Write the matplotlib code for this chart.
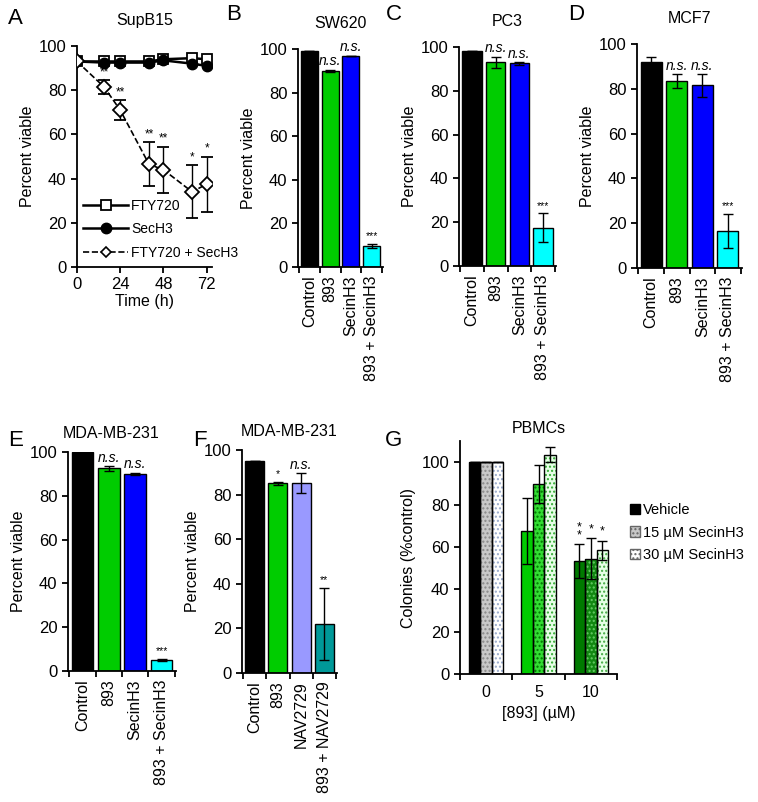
import numpy as np
from matplotlib import pyplot as plt
from matplotlib.patches import Patch
from matplotlib.lines import Line2D

plt.rcParams['font.family'] = ['Liberation Sans', 'DejaVu Sans']
plt.rcParams['font.size'] = 11.5

# ---- panel A data ----
time_h = [0, 15, 24, 40, 48, 64, 72]
fty720 = [93, 93, 93, 93, 94, 94.5, 94]
sech3 = [93, 92.5, 92.5, 92.5, 93.5, 92, 91]
combo_a = [93, 81.5, 71, 46.5, 44, 34, 37.5]
combo_a_err = [0, 3, 4.5, 10, 10.5, 12, 12.5]
combo_a_sig = ['', '**', '**', '**', '**', '*', '*']

# ---- bar panels B-F ----
cats_secin = ['Control', '893', 'SecinH3', '893 + SecinH3']
cats_nav = ['Control', '893', 'NAV2729', '893 + NAV2729']
colors_secin = ['#000000', '#00cc00', '#0000ff', '#00ffff']
colors_nav = ['#000000', '#00cc00', '#9999ff', '#009999']

sw620 = [99, 90, 97, 9.5]
sw620_err = [0, 0.5, 0, 1]
sw620_sig = ['', 'n.s.', 'n.s.', '***']

pc3 = [98, 93, 92.5, 17.5]
pc3_err = [0, 2.5, 0.5, 6.5]
pc3_sig = ['', 'n.s.', 'n.s.', '***']

mcf7 = [92, 83.5, 81.5, 16.5]
mcf7_err = [2, 3, 5, 7.5]
mcf7_sig = ['', 'n.s.', 'n.s.', '***']

mda_secin = [100, 92.5, 90, 5]
mda_secin_err = [0, 1, 0.5, 0.5]
mda_secin_sig = ['', 'n.s.', 'n.s.', '***']

mda_nav = [95, 85, 85, 22]
mda_nav_err = [0, 0.5, 4.5, 16]
mda_nav_sig = ['', '*', 'n.s.', '**']

# ---- panel G ----
doses = ['0', '5', '10']
series_g = ['Vehicle', '15 µM SecinH3', '30 µM SecinH3']
vals_g = [[100, 67.5, 53.5], [100, 89.5, 54.5], [100, 103.5, 58.5]]
errs_g = [[0, 15.5, 8], [0, 9, 9.5], [0, 3.5, 4.5]]
sig_g = [['', '', '*\n*'], ['', '', '*'], ['', '', '*']]
face_g = [['#000000', '#00cc00', '#007a00'],
          ['#c8c8c8', '#33dd33', '#118811'],
          ['#ffffff', '#e6ffe6', '#e6ffe6']]
dot_g = [[None, None, None],
         ['#888888', '#007700', '#66cc66'],
         ['#99aacc', '#33aa33', '#44aa44']]

W, H = 758, 802
fig = plt.figure(figsize=(W / 100, H / 100), dpi=100)


def add_ax(x0, x1, ytop, ybot):
    ax = fig.add_axes([x0 / W, 1 - ybot / H, (x1 - x0) / W, (ybot - ytop) / H])
    for s in ['top', 'right']:
        ax.spines[s].set_visible(False)
    for s in ['left', 'bottom']:
        ax.spines[s].set_linewidth(1.3)
    ax.tick_params(width=1.3, length=4, labelsize=12, colors='black')
    return ax


def bar_panel(ax, cats, vals, errs, cols, sigs, title, tx=0.5, tpad=15):
    x = np.arange(len(cats))
    ax.bar(x, vals, width=0.82, color=cols, edgecolor='black', linewidth=1,
           yerr=errs, error_kw=dict(ecolor='black', elinewidth=1, capsize=3.5, capthick=1))
    ax.set_xlim(-0.55, len(cats) - 0.45)
    ax.set_ylim(0, 100)
    ax.set_yticks(range(0, 101, 20))
    ax.set_xticks(np.arange(-0.5, len(cats), 1.0))
    ax.set_xticklabels([])
    ax.set_xticks(x, minor=True)
    ax.set_xticklabels(cats, minor=True, rotation=90)
    ax.tick_params(axis='x', which='minor', length=0, pad=6, labelsize=11.5)
    ax.set_ylabel('Percent viable', labelpad=3)
    ax.set_title(title, fontsize=11.5, pad=tpad, x=tx)
    for xi, v, e, s in zip(x, vals, errs, sigs):
        if not s:
            continue
        if s == 'n.s.':
            ax.annotate(s, (xi, v + e), xytext=(0, 1), textcoords='offset points',
                        ha='center', va='bottom', fontsize=10, style='italic',
                        annotation_clip=False)
        else:
            ax.annotate(s, (xi, v + e), xytext=(0, 2), textcoords='offset points',
                        ha='center', va='bottom', fontsize=7.5, annotation_clip=False)


# ---- A ----
axA = add_ax(77, 212, 46, 267)
axA.plot(time_h, fty720, '-', color='black', lw=1.8, marker='s', ms=6.5,
         mfc='white', mec='black', mew=1.3, zorder=3)
axA.plot(time_h, sech3, '-', color='black', lw=1.8, marker='o', ms=7.5,
         mfc='black', mec='black', zorder=3)
axA.errorbar(time_h, combo_a, yerr=combo_a_err, fmt='--', color='black', lw=1.2,
             marker='D', ms=7, mfc='white', mec='black', mew=1.3,
             ecolor='black', elinewidth=1, capsize=4, zorder=4)
for t, v, e, s in zip(time_h, combo_a, combo_a_err, combo_a_sig):
    if s:
        axA.annotate(s, (t, v + e), xytext=(0, 1.5), textcoords='offset points',
                     ha='center', va='bottom', fontsize=8.5)
axA.set_xlim(0, 75)
axA.set_ylim(0, 100)
axA.set_xticks([0, 24, 48, 72])
axA.set_yticks(range(0, 101, 20))
axA.set_xlabel('Time (h)', labelpad=1)
axA.set_ylabel('Percent viable', labelpad=3)
axA.set_title('SupB15', fontsize=11.5, pad=15)
handles = [Line2D([], [], color='black', lw=1.8, marker='s', ms=6.5, mfc='white', mew=1.3),
           Line2D([], [], color='black', lw=1.8, marker='o', ms=7.5, mfc='black'),
           Line2D([], [], color='black', lw=1.2, ls='--', marker='D', ms=5, mfc='white', mew=1.2)]
axA.legend(handles, ['FTY720', 'SecH3', 'FTY720 + SecH3'], loc='lower left',
           bbox_to_anchor=(-0.01, 0.0), frameon=False, fontsize=10, handlelength=3.3,
           handletextpad=0.2, labelspacing=0.7, borderaxespad=0.1)

# ---- B, C, D ----
axB = add_ax(298, 383, 49, 267)
bar_panel(axB, cats_secin, sw620, sw620_err, colors_secin, sw620_sig, 'SW620')
axC = add_ax(459, 556, 47, 266)
bar_panel(axC, cats_secin, pc3, pc3_err, colors_secin, pc3_sig, 'PC3')
axD = add_ax(637, 742, 44, 268)
bar_panel(axD, cats_secin, mcf7, mcf7_err, colors_secin, mcf7_sig, 'MCF7')

# ---- E, F ----
axE = add_ax(68, 176, 452, 671)
bar_panel(axE, cats_secin, mda_secin, mda_secin_err, colors_secin, mda_secin_sig,
          'MDA-MB-231', tx=0.4, tpad=10)
axF = add_ax(242, 337, 450, 673)
bar_panel(axF, cats_nav, mda_nav, mda_nav_err, colors_nav, mda_nav_sig,
          'MDA-MB-231', tpad=10)

# ---- G ----
axG = add_ax(460, 617, 441, 674)
bw = 0.22
gx = np.arange(len(doses))
for i in range(3):
    xs = gx + (i - 1) * bw
    for j in range(len(doses)):
        axG.bar(xs[j], vals_g[i][j], width=bw, color=face_g[i][j], linewidth=0, zorder=2)
        if dot_g[i][j]:
            axG.bar(xs[j], vals_g[i][j], width=bw, color='none', edgecolor=dot_g[i][j],
                    hatch='....', linewidth=0, zorder=2)
        axG.bar(xs[j], vals_g[i][j], width=bw, fill=False, edgecolor='black',
                linewidth=1, zorder=3)
    axG.errorbar(xs, vals_g[i], yerr=errs_g[i], fmt='none', ecolor='black',
                 elinewidth=1, capsize=3.5, zorder=4)
    for j in range(len(doses)):
        s = sig_g[i][j]
        if s:
            axG.annotate(s, (xs[j], vals_g[i][j] + errs_g[i][j]), xytext=(0, 2),
                         textcoords='offset points', ha='center', va='bottom',
                         fontsize=9, linespacing=0.55)
axG.set_xlim(-0.5, 2.5)
axG.set_ylim(0, 110)
axG.set_yticks(range(0, 101, 20))
axG.set_xticks([-0.5, 0.5, 1.5, 2.5])
axG.set_xticklabels([])
axG.set_xticks(gx, minor=True)
axG.set_xticklabels(doses, minor=True)
axG.tick_params(axis='x', which='minor', length=0, pad=8)
axG.set_xlabel('[893] (µM)', labelpad=4)
axG.set_ylabel('Colonies (%control)', labelpad=4)
axG.set_title('PBMCs', fontsize=11.5, pad=6)
leg_handles = [Patch(facecolor='black', edgecolor='black'),
               Patch(facecolor='#c8c8c8', edgecolor='#666666', hatch='....'),
               Patch(facecolor='white', edgecolor='#666666', hatch='....')]
fig.legend(leg_handles, series_g, loc='upper left', bbox_to_anchor=(624 / W, 1 - 497 / H),
           frameon=False, fontsize=10.5, handlelength=0.7, handleheight=0.7,
           handletextpad=0.2, labelspacing=0.6, borderaxespad=0)

# panel letters
for lab, (px, py) in zip('ABCDEFG', [(8, 18), (226, 15), (386, 15), (568, 15),
                                     (8, 440), (193, 440), (385, 440)]):
    fig.text(px / W, 1 - py / H, lab, fontsize=16, ha='left', va='center')

fig.savefig('out.png', dpi=100)
